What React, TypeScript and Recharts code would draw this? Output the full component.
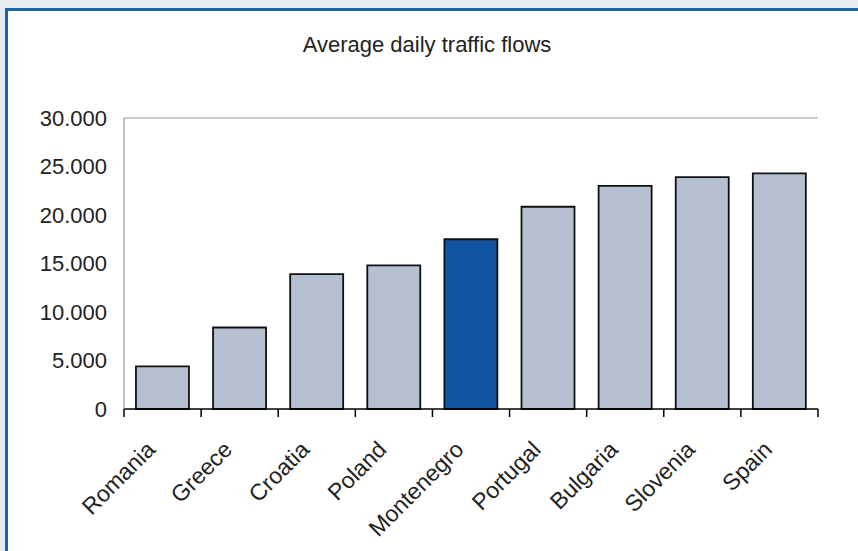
import { BarChart, Bar, XAxis, YAxis, Cell, ReferenceLine } from "recharts";

const COUNTRIES = [
  "Romania",
  "Greece",
  "Croatia",
  "Poland",
  "Montenegro",
  "Portugal",
  "Bulgaria",
  "Slovenia",
  "Spain",
];
const TRAFFIC = [4400, 8400, 13900, 14800, 17500, 20850, 23000, 23900, 24300];
const Y_TICKS = [0, 5000, 10000, 15000, 20000, 25000, 30000];
const HIGHLIGHT = "Montenegro";

const FONT = "'Liberation Sans', Arial, sans-serif";
const BAR_FILL = "#b6bfcf";
const BAR_HIGHLIGHT = "#1354a0";

const data = COUNTRIES.map((country, i) => ({ country, traffic: TRAFFIC[i] }));

// thousands separator as a dot: 30000 -> "30.000"
const fmt = (v: number) => String(v).replace(/\B(?=(\d{3})+(?!\d))/g, ".");

function CountryTick(props: any) {
  const { x, y, payload, index } = props;
  const half = payload?.offset ?? 38.5;
  const last = index === COUNTRIES.length - 1;
  const tx = x - 6;
  const ty = y + 42;
  return (
    <g>
      <line x1={x - half} y1={y} x2={x - half} y2={y + 8} stroke="#000" strokeWidth={1.5} />
      {last && <line x1={x + half} y1={y} x2={x + half} y2={y + 8} stroke="#000" strokeWidth={1.5} />}
      <text
        x={tx}
        y={ty}
        transform={`rotate(-45 ${tx} ${ty})`}
        textAnchor="end"
        fontSize={23}
        fontFamily={FONT}
        fill="#222"
      >
        {payload.value}
      </text>
    </g>
  );
}

export default function App() {
  return (
    <div
      style={{
        position: "absolute",
        left: 0,
        top: 0,
        width: 858,
        height: 551,
        background: "#e7ebee",
        overflow: "hidden",
      }}
    >
      <div
        style={{
          position: "absolute",
          left: 5,
          top: 8,
          right: 0,
          bottom: 0,
          background: "#fff",
          borderLeft: "3px solid #1a67a8",
          borderTop: "3px solid #1a67a8",
        }}
      />
      <div
        style={{
          position: "absolute",
          left: 0,
          top: 33,
          width: 854,
          textAlign: "center",
          fontFamily: FONT,
          fontSize: 22,
          lineHeight: "24px",
          color: "#222",
        }}
      >
        Average daily traffic flows
      </div>
      <div style={{ position: "absolute", left: 0, top: 0 }}>
        <BarChart
          width={858}
          height={551}
          data={data}
          margin={{ top: 118, right: 40, bottom: 12, left: 14 }}
          barCategoryGap="15.5%"
        >
          <XAxis
            dataKey="country"
            height={130}
            interval={0}
            tickSize={0}
            tickMargin={0}
            tickLine={false}
            axisLine={{ stroke: "#000", strokeWidth: 1.5 }}
            tick={<CountryTick />}
          />
          <YAxis
            domain={[0, 30000]}
            ticks={Y_TICKS}
            width={110}
            tickSize={0}
            tickMargin={17}
            tickLine={false}
            tickFormatter={fmt}
            axisLine={{ stroke: "#888" }}
            tick={{ fontSize: 22, fontFamily: FONT, fill: "#222" }}
          />
          <YAxis
            yAxisId="r"
            orientation="right"
            domain={[0, 30000]}
            width={0}
            tick={false}
            tickLine={false}
            axisLine={{ stroke: "#999" }}
          />
          <ReferenceLine y={30000} stroke="#999" />
          <Bar dataKey="traffic" stroke="#111" strokeWidth={1.8} isAnimationActive={false}>
            {data.map((d) => (
              <Cell key={d.country} fill={d.country === HIGHLIGHT ? BAR_HIGHLIGHT : BAR_FILL} />
            ))}
          </Bar>
        </BarChart>
      </div>
    </div>
  );
}
